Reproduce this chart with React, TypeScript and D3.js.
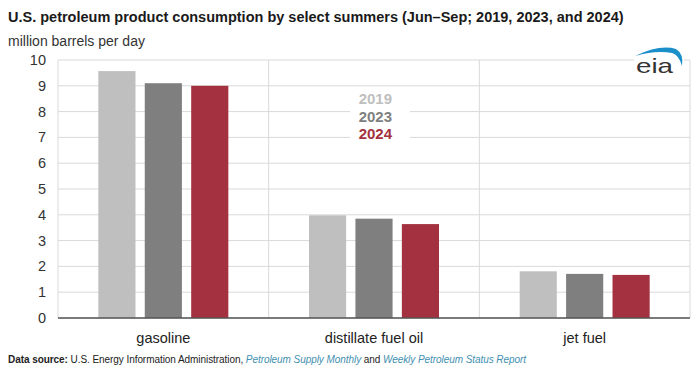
import React from "react";
import * as d3 from "d3";

const categories = ["gasoline", "distillate fuel oil", "jet fuel"];
const years = ["2019", "2023", "2024"];
const values2019 = [9.57, 3.98, 1.81];
const values2023 = [9.1, 3.85, 1.71];
const values2024 = [9.0, 3.64, 1.67];
const yTicks = [0, 1, 2, 3, 4, 5, 6, 7, 8, 9, 10];
const colors = ["#bfbfbf", "#7f7f7f", "#a3313f"];

const W = 700;
const H = 374;
const left = 58;
const right = 690;
const top = 60;
const bottom = 318;

export default function App() {
  const series = [values2019, values2023, values2024];
  const x = d3.scaleBand<string>().domain(categories).range([left, right]).paddingInner(0).paddingOuter(0);
  const xs = d3.scaleBand<string>().domain(years).range([0, 130]).paddingInner(0.2).paddingOuter(0);
  const y = d3.scaleLinear().domain([0, 10]).range([bottom, top]);
  const font = "Arial, 'Liberation Sans', sans-serif";

  return (
    <svg width={W} height={H} style={{ position: "absolute", left: 0, top: 0, background: "#fff" }} fontFamily={font}>
      <rect x={0} y={0} width={W} height={H} fill="#fff" />
      <text x={8} y={22} fontSize={14.5} fontWeight="bold" fill="#1a1a1a">
        U.S. petroleum product consumption by select summers (Jun–Sep; 2019, 2023, and 2024)
      </text>
      <text x={8} y={46} fontSize={14} fill="#333">million barrels per day</text>

      {yTicks.map((t) => (
        <g key={t}>
          <line x1={left} x2={right} y1={y(t)} y2={y(t)} stroke="#d9d9d9" strokeWidth={1} />
          <text x={46} y={y(t) + 5} fontSize={14.5} textAnchor="end" fill="#333">{t}</text>
        </g>
      ))}
      {[...categories.map((c) => x(c) as number), right].map((vx, i) => (
        <line key={i} x1={vx} x2={vx} y1={top} y2={bottom} stroke="#d9d9d9" strokeWidth={1} />
      ))}

      <rect x={350} y={87} width={60} height={56} fill="#fff" />
      <rect x={634} y={56} width={50} height={22} fill="#fff" />

      {categories.map((c, ci) => {
        const cx = (x(c) as number) + x.bandwidth() / 2 - 65;
        return (
          <g key={c}>
            {series.map((s, si) => (
              <rect
                key={si}
                x={cx + (xs(years[si]) as number)}
                y={y(s[ci])}
                width={xs.bandwidth()}
                height={y(0) - y(s[ci])}
                fill={colors[si]}
              />
            ))}
            <text x={(x(c) as number) + x.bandwidth() / 2} y={343} fontSize={14.5} textAnchor="middle" fill="#222">{c}</text>
          </g>
        );
      })}

      <line x1={left} x2={right} y1={bottom} y2={bottom} stroke="#555" strokeWidth={1.3} />

      {years.map((yr, i) => (
        <text key={yr} x={392} y={104 + i * 17.5} fontSize={15} fontWeight="bold" textAnchor="end" fill={colors[i]}>{yr}</text>
      ))}

      <g>
        <path d="M 635 56 Q 660 44 676 49 Q 684 54 682 66 Q 679 55 672 53 Q 656 50 635 56 Z" fill="#1b8fc9" />
        <text x={636} y={73} fontSize={21} fill="#333" fontFamily="'Liberation Sans', Arial, sans-serif" textLength={37} lengthAdjust="spacingAndGlyphs">eia</text>
      </g>

      <text x={8} y={363} fontSize={10} fill="#222" textLength={518} lengthAdjust="spacing">
        <tspan fontWeight="bold">Data source: </tspan>
        <tspan>U.S. Energy Information Administration, </tspan>
        <tspan fill="#3f8fb0" fontStyle="italic">Petroleum Supply Monthly</tspan>
        <tspan> and </tspan>
        <tspan fill="#3f8fb0" fontStyle="italic">Weekly Petroleum Status Report</tspan>
      </text>
    </svg>
  );
}
